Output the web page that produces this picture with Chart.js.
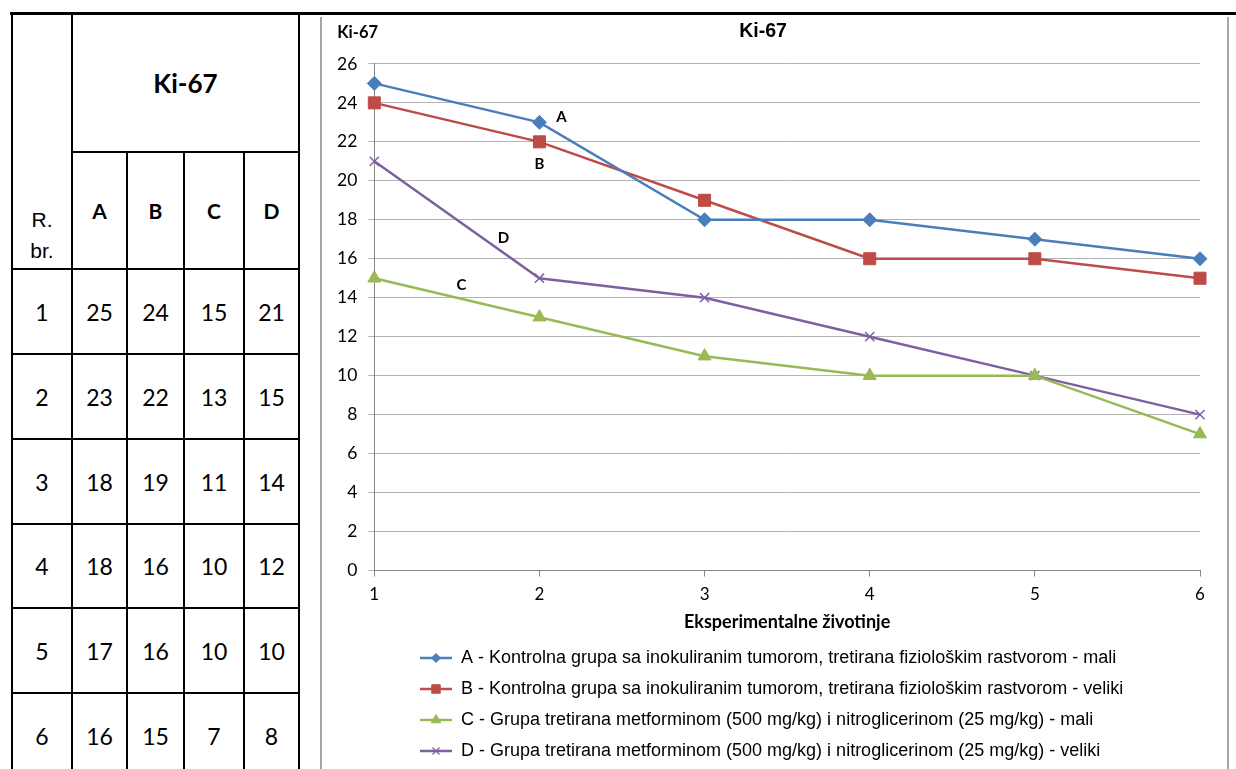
<!DOCTYPE html>
<html>
<head>
<meta charset="utf-8">
<title>Ki-67</title>
<script src="https://cdn.jsdelivr.net/npm/chart.js@4.4.0/dist/chart.umd.min.js"></script>
<style>
  body { margin: 0; background: #fff; width: 1236px; height: 769px; overflow: hidden; position: relative; font-family: Lato, "Liberation Sans", sans-serif; }
  #topline { position: absolute; left: 10px; right: 0; top: 12px; height: 3px; background: #000; }
  #tbl { position: absolute; left: 11px; top: 12px; border-collapse: collapse; table-layout: fixed; }
  #tbl td { border: 2px solid #000; text-align: center; vertical-align: middle; padding: 0; color: #000; }
  #tbl .head { font-weight: bold; font-size: 26px; }
  #tbl .grp { font-weight: bold; font-size: 21px; }
  #tbl .rb { font-family: "Liberation Sans Narrow", "Liberation Sans", sans-serif; font-size: 21px; vertical-align: bottom; line-height: 31px; padding-bottom: 2px; }
  #tbl .num { font-size: 23px; }
  #panel { position: absolute; left: 320px; top: 17px; width: 905px; height: 760px; border-left: 2px solid #a6a6a6; border-right: 2px solid #a6a6a6; }
  #ki67 { position: absolute; left: 323px; top: 17px; }
</style>
</head>
<body>
<div id="topline"></div>
<table id="tbl"></table>
<div id="panel"></div>
<canvas id="ki67" width="903" height="753"></canvas>
<script>
// Ki-67 po životinji, grupe A-D
const animals = ['1', '2', '3', '4', '5', '6'];
const groupA = [25, 23, 18, 18, 17, 16];
const groupB = [24, 22, 19, 16, 16, 15];
const groupC = [15, 13, 11, 10, 10, 7];
const groupD = [21, 15, 14, 12, 10, 8];
const groupKeys = ['A', 'B', 'C', 'D'];
const groupNames = [
    'A - Kontrolna grupa sa inokuliranim tumorom, tretirana fiziološkim rastvorom - mali',
    'B - Kontrolna grupa sa inokuliranim tumorom, tretirana fiziološkim rastvorom - veliki',
    'C - Grupa tretirana metforminom (500 mg/kg) i nitroglicerinom (25 mg/kg) - mali',
    'D - Grupa tretirana metforminom (500 mg/kg) i nitroglicerinom (25 mg/kg) - veliki'
];
const yMin = 0, yMax = 26, yStep = 2;

const colors = ['#4a7ebb', '#be4b48', '#98b954', '#7d60a0'];
const markers = ['rectRot', 'rect', 'triangle', 'crossRot'];
const markerSize = [7, 8.5, 7.5, 6.5];
const legendMarkerSize = [4.5, 6, 5.5, 5];
const allGroups = [groupA, groupB, groupC, groupD];
const rowHeights = [85, 85, 85, 84, 85, 85];

// tabela lijevo
const tbl = document.getElementById('tbl');
let html = '<colgroup><col style="width:60px"><col style="width:55px"><col style="width:57px"><col style="width:60px"><col style="width:55px"></colgroup>';
html += '<tr style="height:139px"><td class="rb" rowspan="2">R.<br>br.</td><td class="head" colspan="4">Ki-67</td></tr>';
html += '<tr style="height:117px">' + groupKeys.map(k => '<td class="grp">' + k + '</td>').join('') + '</tr>';
for (let i = 0; i < animals.length; i++) {
    html += '<tr style="height:' + rowHeights[i] + 'px"><td class="num">' + animals[i] + '</td>' +
        allGroups.map(g => '<td class="num">' + g[i] + '</td>').join('') + '</tr>';
}
tbl.innerHTML = html;

// ikonice za legendu: linija sa markerom u sredini
function legendIcon(i) {
    const c = document.createElement('canvas');
    c.width = 32; c.height = 16;
    const g = c.getContext('2d');
    g.strokeStyle = colors[i];
    g.fillStyle = colors[i];
    g.lineWidth = 2.5;
    g.beginPath(); g.moveTo(0, 8); g.lineTo(32, 8); g.stroke();
    g.lineWidth = i === 3 ? 1.2 : 1;
    Chart.helpers.drawPoint(g, { pointStyle: markers[i], radius: legendMarkerSize[i], rotation: 0, borderWidth: g.lineWidth }, 16, 8);
    return c;
}
const icons = groupKeys.map((k, i) => legendIcon(i));

// oznake A-D uz linije
const tagSpots = [
    { ds: 0, idx: 1, dx: 22, dy: -5 },
    { ds: 1, idx: 1, dx: 0, dy: 22 },
    { ds: 2, idx: 1, dx: -78, dy: -32 },
    { ds: 3, idx: 1, dx: -36, dy: -40 }
];
const legendInset = 81;
const font = 'Lato, "Liberation Sans", sans-serif';

const extras = {
    id: 'extras',
    afterLayout(chart) {
        chart.legend.left += legendInset;
        chart.legend.right += legendInset;
    },
    afterDatasetsDraw(chart) {
        const ctx = chart.ctx;
        ctx.save();
        ctx.fillStyle = '#000';
        ctx.font = 'bold 15px ' + font;
        ctx.textAlign = 'center';
        ctx.textBaseline = 'middle';
        tagSpots.forEach(t => {
            const pt = chart.getDatasetMeta(t.ds).data[t.idx];
            ctx.fillText(groupKeys[t.ds], pt.x + t.dx, pt.y + t.dy);
        });
        // naziv vertikalne ose iznad skale
        ctx.textAlign = 'left';
        ctx.font = 'bold 16.5px ' + font;
        ctx.fillText('Ki-67', chart.chartArea.left - 37, 16);
        ctx.restore();
    }
};

const ctx = document.getElementById('ki67').getContext('2d');
const ki67Chart = new Chart(ctx, {
    type: 'line',
    data: {
        labels: animals,
        datasets: allGroups.map((g, i) => ({
            label: groupNames[i],
            data: g,
            borderColor: colors[i],
            backgroundColor: colors[i],
            borderWidth: 2.5,
            pointStyle: markers[i],
            pointRadius: markerSize[i],
            pointBorderWidth: i === 3 ? 1.5 : 1,
            pointBorderColor: colors[i],
            pointBackgroundColor: colors[i],
            tension: 0,
            clip: false
        }))
    },
    options: {
        responsive: false,
        animation: false,
        layout: { padding: { left: 3, right: 26, top: 0, bottom: 0 } },
        font: { family: font },
        scales: {
            x: {
                offset: false,
                grid: { drawOnChartArea: false, tickLength: 6, color: '#868686' },
                border: { color: '#868686', width: 1 },
                ticks: { color: '#000', font: { size: 17, lineHeight: 1 }, padding: 10 },
                title: { display: true, text: 'Eksperimentalne životinje', color: '#000', font: { size: 18, weight: 'bold', lineHeight: 1 }, padding: { top: 0, bottom: 4.5 } }
            },
            y: {
                min: yMin,
                max: yMax,
                grid: { color: '#b3b3b3', tickLength: 6 },
                border: { color: '#868686', width: 1 },
                ticks: { stepSize: yStep, color: '#000', font: { size: 17.5 }, padding: 11 }
            }
        },
        plugins: {
            title: {
                display: true,
                text: 'Ki-67',
                color: '#000',
                font: { size: 19.5, weight: 'bold' },
                padding: { top: 3, bottom: 20.5 }
            },
            legend: {
                position: 'bottom',
                align: 'start',
                labels: {
                    usePointStyle: true,
                    pointStyleWidth: 32,
                    color: '#000',
                    font: { size: 18 },
                    padding: 13,
                    generateLabels: chart => Chart.defaults.plugins.legend.labels.generateLabels(chart)
                        .map((it, i) => Object.assign(it, { pointStyle: icons[i] }))
                }
            },
            tooltip: { enabled: false }
        }
    },
    plugins: [extras]
});
</script>
</body>
</html>
